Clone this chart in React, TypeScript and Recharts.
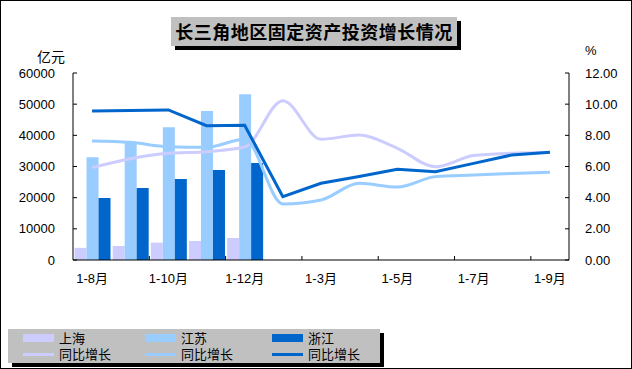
import React from "react";
import { Bar, ComposedChart, Legend, Line, XAxis, YAxis } from "recharts";

const months = [
  "1-8月", "1-9月", "1-10月", "1-11月", "1-12月", "1-2月", "1-3月",
  "1-4月", "1-5月", "1-6月", "1-7月", "1-8月", "1-9月",
];

// 累计投资额（亿元），只有前五期有柱
const shanghai = [3900, 4500, 5560, 6100, 7060];
const jiangsu = [33000, 37600, 42600, 47800, 53200];
const zhejiang = [19900, 23100, 26000, 28900, 31100];

// 同比增长（%）
const shanghaiYoY = [5.93, 6.5, 6.85, 6.95, 7.25, 10.22, 7.75, 8.02, 7.17, 5.99, 6.7, 6.85, 6.9];
const jiangsuYoY = [7.64, 7.55, 7.27, 7.23, 7.75, 3.6, 3.85, 4.92, 4.68, 5.35, 5.45, 5.55, 5.63];
const zhejiangYoY = [9.56, 9.6, 9.63, 8.62, 8.64, 4.06, 4.92, 5.36, 5.82, 5.67, 6.2, 6.74, 6.91];

const leftTicks = [0, 10000, 20000, 30000, 40000, 50000, 60000];
const rightTicks = [0, 2, 4, 6, 8, 10, 12];

// 图例顺序：先三根柱，再三条线
const legendOrder = ["shanghai", "jiangsu", "zhejiang", "shanghaiYoY", "jiangsuYoY", "zhejiangYoY"];

const data = months.map((month, i) => ({
  month,
  shanghai: shanghai[i] ?? null,
  jiangsu: jiangsu[i] ?? null,
  zhejiang: zhejiang[i] ?? null,
  shanghaiYoY: shanghaiYoY[i],
  jiangsuYoY: jiangsuYoY[i],
  zhejiangYoY: zhejiangYoY[i],
}));

const W = 632;
const H = 369;
const PLOT_LEFT = 73;
const PLOT_RIGHT = 569;
const PLOT_TOP = 73;
const PLOT_BOTTOM = 260;
const AXIS_W = 60;
const BAND = (PLOT_RIGHT - PLOT_LEFT) / months.length;

const LATIN = '"Liberation Sans", Arial, "Noto Sans CJK SC", sans-serif';
const CJK = '"Noto Sans CJK SC", "Liberation Sans", sans-serif';

const C_SH = "#ccccff";
const C_JS = "#99ccff";
const C_ZJ = "#0066cc";

function LeftTick({ x, y, payload }: any) {
  const axisX = x + 18;
  return (
    <g>
      <line x1={axisX} x2={axisX + 4} y1={y} y2={y} stroke="#000" />
      <text x={x} y={y} textAnchor="end" dominantBaseline="central" fontSize={13} fontFamily={LATIN} fill="#000">
        {payload.value}
      </text>
    </g>
  );
}

function RightTick({ x, y, payload }: any) {
  const axisX = x - 16;
  return (
    <g>
      <line x1={axisX - 4} x2={axisX} y1={y} y2={y} stroke="#000" />
      <text x={x} y={y} textAnchor="start" dominantBaseline="central" fontSize={13} fontFamily={LATIN} fill="#000">
        {Number(payload.value).toFixed(2)}
      </text>
    </g>
  );
}

function MonthTick({ x, y, index, payload }: any) {
  if (index % 2 !== 0) return null;
  const left = x - BAND / 2;
  return (
    <g>
      {index > 0 && <line x1={left} x2={left} y1={y} y2={y - 4} stroke="#000" />}
      <text x={x} y={y + 23} textAnchor="middle" fontSize={13} fontFamily={LATIN} fill="#000">
        {payload.value}
      </text>
    </g>
  );
}

function LegendBox({ payload }: any) {
  const items = [...(payload || [])].sort(
    (a: any, b: any) => legendOrder.indexOf(a.dataKey) - legendOrder.indexOf(b.dataKey)
  );
  return (
    <div
      style={{
        width: 372,
        height: 34,
        background: "#c0c0c0",
        boxShadow: "4px 4px 0 #000",
        display: "grid",
        gridTemplateColumns: "122px 127px 1fr",
        gridAutoRows: "16px",
        paddingLeft: 15,
        paddingTop: 1,
        boxSizing: "border-box",
        fontFamily: LATIN,
        fontSize: 13,
        color: "#000",
      }}
    >
      {items.map((entry: any, i: number) => (
        <div key={i} style={{ display: "flex", alignItems: "center", height: 16, lineHeight: "15px", overflow: "hidden" }}>
          <span
            style={{
              display: "inline-block",
              width: 31,
              height: entry.type === "rect" ? 8 : 3,
              background: entry.color,
              marginRight: 5,
            }}
          />
          <span>{entry.value}</span>
        </div>
      ))}
    </div>
  );
}

export default function App() {
  return (
    <div
      style={{
        position: "absolute",
        left: 0,
        top: 0,
        width: W,
        height: H,
        border: "1px solid #000",
        boxSizing: "border-box",
        background: "#fff",
        overflow: "hidden",
      }}
    >
      <div
        style={{
          position: "absolute",
          left: 170,
          top: 16,
          width: 286,
          height: 29,
          background: "#c0c0c0",
          boxShadow: "4px 4px 0 #000",
          fontFamily: CJK,
          fontWeight: 700,
          fontSize: 18,
          lineHeight: "29px",
          textAlign: "center",
          color: "#000",
          letterSpacing: 0.5,
          zIndex: 2,
        }}
      >
        长三角地区固定资产投资增长情况
      </div>
      <div style={{ position: "absolute", left: 36, top: 45, fontFamily: CJK, fontSize: 14, color: "#000", zIndex: 2 }}>
        亿元
      </div>
      <div style={{ position: "absolute", left: 584, top: 42, fontFamily: LATIN, fontSize: 13, color: "#000", zIndex: 2 }}>
        %
      </div>
      <div style={{ position: "absolute", left: -1, top: -1 }}>
        <ComposedChart
          width={W}
          height={H}
          data={data}
          margin={{
            top: PLOT_TOP,
            bottom: H - PLOT_BOTTOM - 30,
            left: PLOT_LEFT - AXIS_W,
            right: W - PLOT_RIGHT - AXIS_W,
          }}
          barCategoryGap="4%"
          barGap={0}
        >
          <XAxis
            dataKey="month"
            height={30}
            interval={0}
            tickSize={0}
            tickMargin={0}
            tick={<MonthTick />}
            axisLine={{ stroke: "#000" }}
            tickLine={false}
          />
          <YAxis
            yAxisId="amount"
            width={AXIS_W}
            domain={[0, 60000]}
            ticks={leftTicks}
            interval={0}
            tickSize={0}
            tickMargin={18}
            tick={<LeftTick />}
            axisLine={{ stroke: "#000" }}
            tickLine={false}
          />
          <YAxis
            yAxisId="pct"
            orientation="right"
            width={AXIS_W}
            domain={[0, 12]}
            ticks={rightTicks}
            interval={0}
            tickSize={0}
            tickMargin={16}
            tick={<RightTick />}
            axisLine={{ stroke: "#000" }}
            tickLine={false}
          />
          <Legend
            layout="vertical"
            align="center"
            verticalAlign="middle"
            content={<LegendBox />}
            wrapperStyle={{ left: 8, top: 329, width: 372, height: 34, bottom: "auto" }}
          />
          <Bar yAxisId="amount" dataKey="shanghai" name="上海" fill={C_SH} isAnimationActive={false} />
          <Bar yAxisId="amount" dataKey="jiangsu" name="江苏" fill={C_JS} isAnimationActive={false} />
          <Bar yAxisId="amount" dataKey="zhejiang" name="浙江" fill={C_ZJ} isAnimationActive={false} />
          <Line
            yAxisId="pct"
            type="monotone"
            dataKey="shanghaiYoY"
            name="同比增长"
            stroke={C_SH}
            strokeWidth={3}
            dot={false}
            isAnimationActive={false}
          />
          <Line
            yAxisId="pct"
            type="monotone"
            dataKey="jiangsuYoY"
            name="同比增长"
            stroke={C_JS}
            strokeWidth={3}
            dot={false}
            isAnimationActive={false}
          />
          <Line
            yAxisId="pct"
            type="linear"
            dataKey="zhejiangYoY"
            name="同比增长"
            stroke={C_ZJ}
            strokeWidth={3}
            dot={false}
            isAnimationActive={false}
          />
        </ComposedChart>
      </div>
    </div>
  );
}
